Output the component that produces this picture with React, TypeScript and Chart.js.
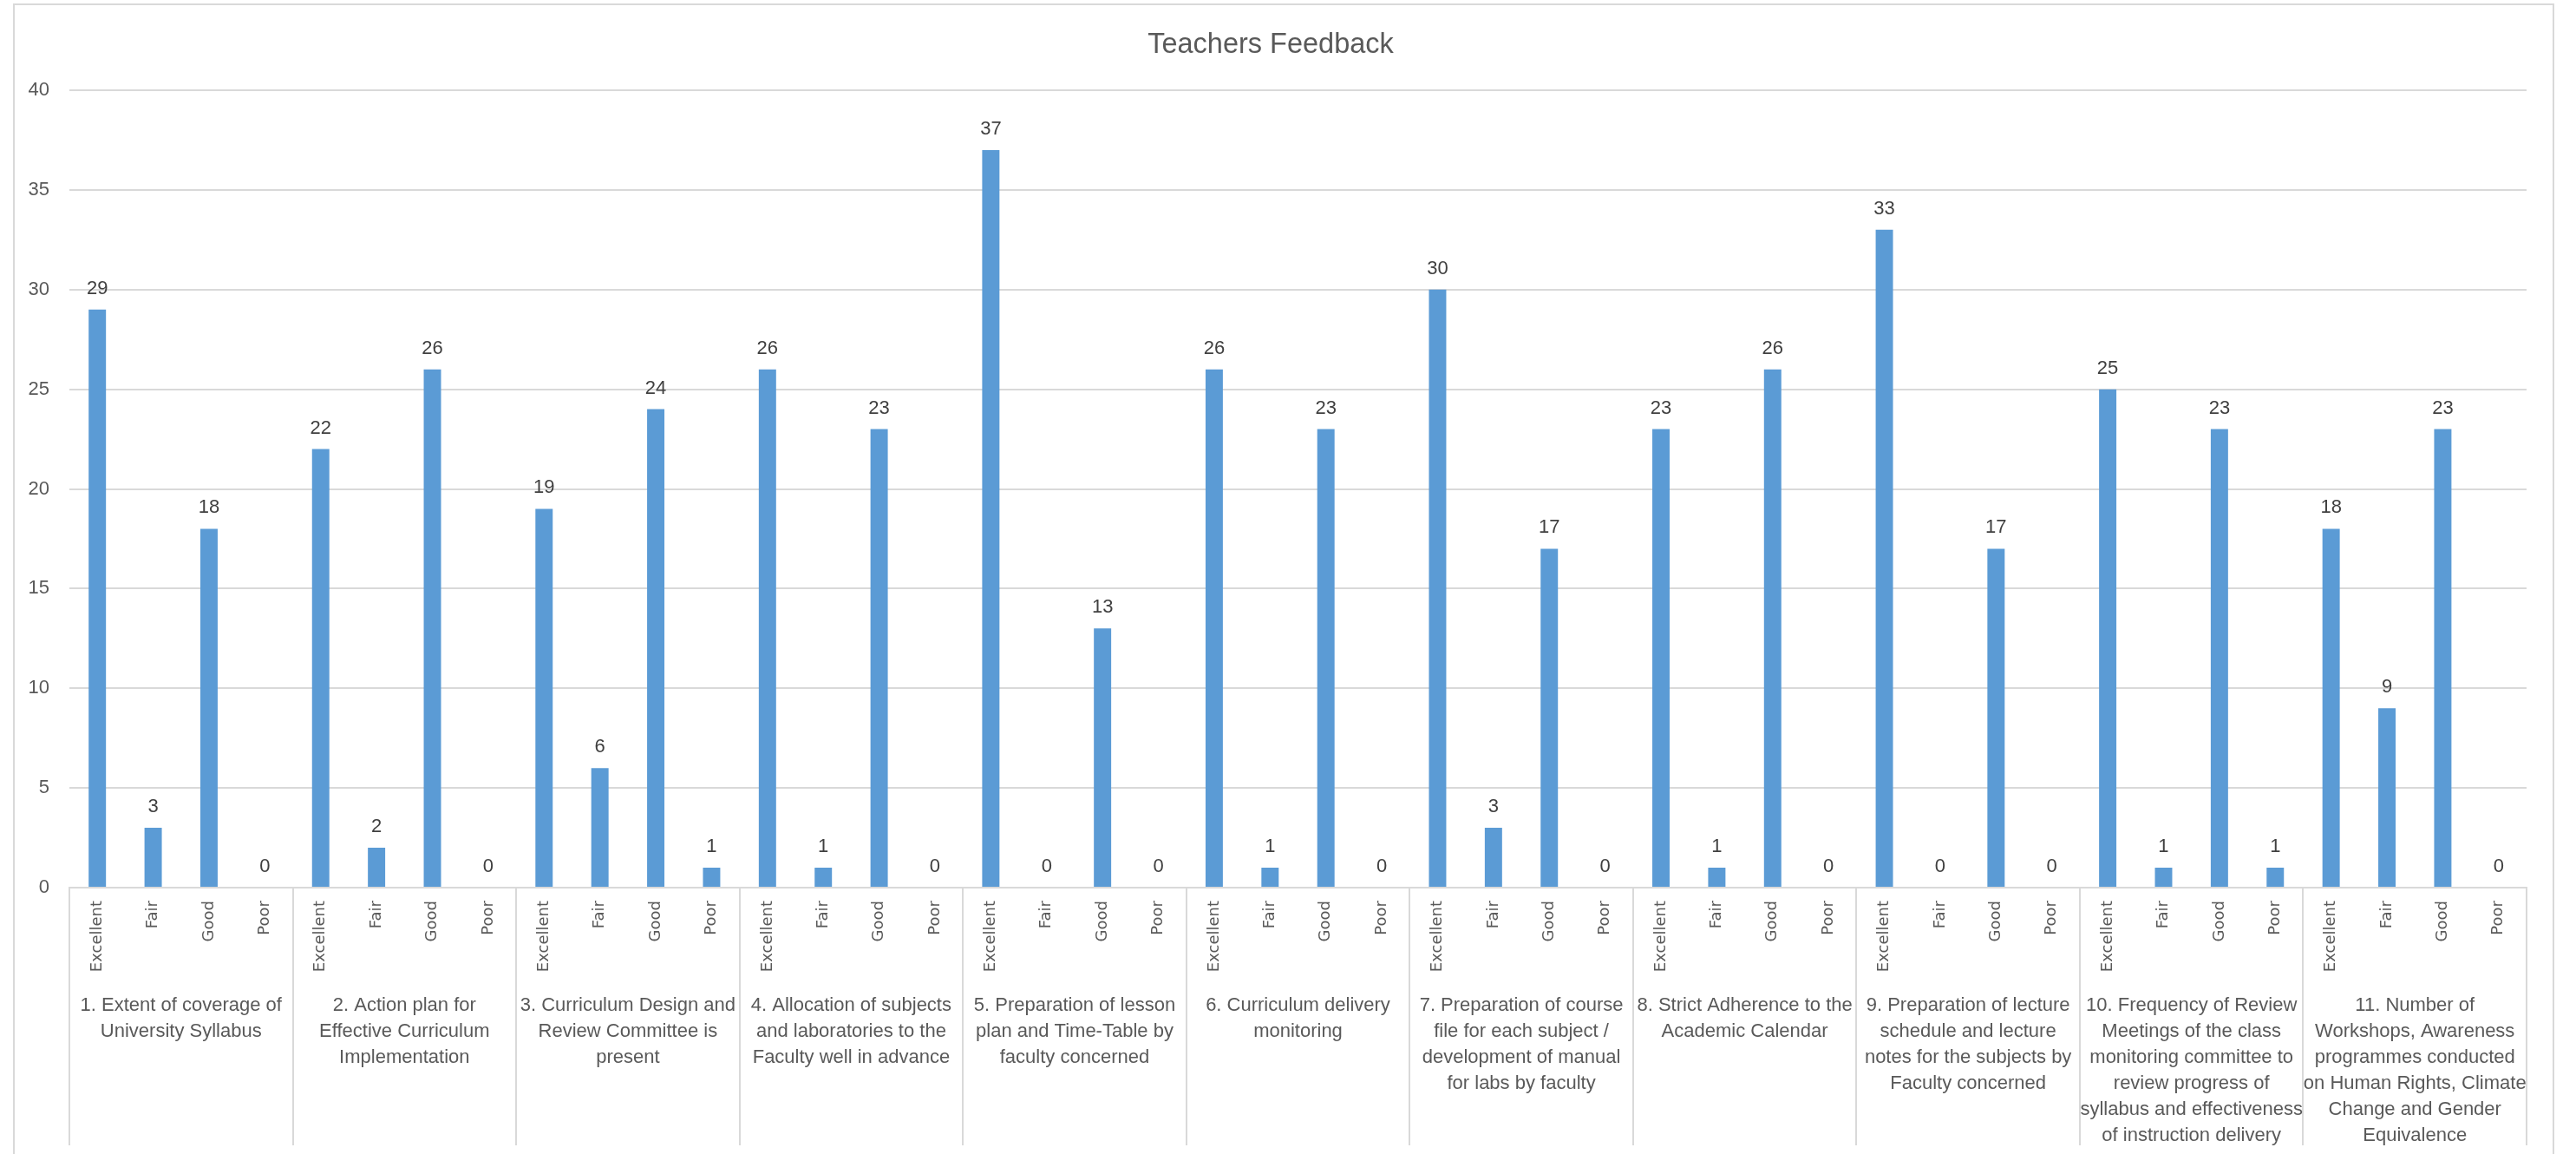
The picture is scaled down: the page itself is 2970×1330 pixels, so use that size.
import React, { useEffect, useRef } from "react";
import { Chart, registerables } from "chart.js";

Chart.register(...registerables);

const chartTitle = "Teachers Feedback";
const ratingLabels = ["Excellent", "Fair", "Good", "Poor"];
const questionLabels: string[][] = [
  ["1. Extent of coverage of", "University Syllabus"],
  ["2. Action plan for", "Effective Curriculum", "Implementation"],
  ["3. Curriculum Design and", "Review Committee is", "present"],
  ["4. Allocation of subjects", "and laboratories to the", "Faculty well in advance"],
  ["5. Preparation of lesson", "plan and Time-Table by", "faculty concerned"],
  ["6. Curriculum delivery", "monitoring"],
  ["7. Preparation of course", "file for each subject /", "development of manual", "for labs by faculty"],
  ["8. Strict Adherence to the", "Academic Calendar"],
  ["9. Preparation of lecture", "schedule and lecture", "notes for the subjects by", "Faculty concerned"],
  ["10. Frequency of Review", "Meetings of the class", "monitoring committee to", "review progress of", "syllabus and effectiveness", "of instruction delivery"],
  ["11. Number of", "Workshops, Awareness", "programmes conducted", "on Human Rights, Climate", "Change and Gender", "Equivalence"],
];
const excellentCounts = [29, 22, 19, 26, 37, 26, 30, 23, 33, 25, 18];
const fairCounts = [3, 2, 6, 1, 0, 1, 3, 1, 0, 1, 9];
const goodCounts = [18, 26, 24, 23, 13, 23, 17, 26, 17, 23, 23];
const poorCounts = [0, 0, 1, 0, 0, 0, 0, 0, 0, 1, 0];
const yMin = 0;
const yMax = 40;
const yStep = 5;

const GRID = "#d9d9d9";
const TEXT = "#595959";

const valueLabelPlugin = {
  id: "valueLabels",
  afterDatasetsDraw(chart: any) {
    const ctx = chart.ctx;
    const meta = chart.getDatasetMeta(0);
    const data = chart.data.datasets[0].data as number[];
    ctx.save();
    ctx.font = '22px "Liberation Sans"';
    ctx.fillStyle = "#404040";
    ctx.textAlign = "center";
    ctx.textBaseline = "alphabetic";
    meta.data.forEach((bar: any, i: number) => {
      ctx.fillText(String(data[i]), bar.x, bar.y - 18);
    });
    ctx.restore();
  },
};

export default function App() {
  const canvasRef = useRef<HTMLCanvasElement | null>(null);

  useEffect(() => {
    if (!canvasRef.current) return;
    const categories = questionLabels.flatMap(() => ratingLabels);
    const values = questionLabels.flatMap((_, i) => [
      excellentCounts[i],
      fairCounts[i],
      goodCounts[i],
      poorCounts[i],
    ]);
    Chart.defaults.font.family = '"Liberation Sans", Arial, sans-serif';
    const chart = new Chart(canvasRef.current, {
      type: "bar",
      data: {
        labels: categories,
        datasets: [
          {
            data: values,
            backgroundColor: "#5b9bd5",
            borderWidth: 0,
            barPercentage: 0.31,
            categoryPercentage: 1.0,
          },
        ],
      },
      plugins: [valueLabelPlugin],
      options: {
        animation: false,
        responsive: false,
        layout: { padding: { left: 0, right: 30, top: 0, bottom: 0 } },
        plugins: {
          legend: { display: false },
          tooltip: { enabled: false },
          title: {
            display: true,
            text: chartTitle,
            color: TEXT,
            font: { size: 32.5, weight: "normal", lineHeight: 1.2 },
            padding: { top: 27, bottom: 32 },
          },
        },
        scales: {
          y: {
            min: yMin,
            max: yMax,
            ticks: {
              stepSize: yStep,
              color: TEXT,
              font: { size: 22 },
              padding: 23,
            },
            grid: { color: GRID, lineWidth: 2, drawTicks: false },
            border: { display: false },
            afterFit: (scale: any) => {
              scale.width = 63;
            },
          },
          x: {
            type: "category",
            position: "bottom",
            weight: 0,
            offset: true,
            ticks: {
              autoSkip: false,
              minRotation: 90,
              maxRotation: 90,
              color: TEXT,
              font: { family: '"DejaVu Sans"', size: 18 },
              padding: -89,
            },
            grid: {
              offset: true,
              drawOnChartArea: false,
              drawTicks: true,
              tickLength: 104,
              lineWidth: 2,
              color: (c: any) =>
                c.index === undefined || c.index % 4 === 0 ? GRID : "rgba(0,0,0,0)",
            },
            border: { display: true, color: GRID, width: 2 },
            afterFit: (scale: any) => {
              scale.height = 104;
            },
          },
          x2: {
            type: "category",
            position: "bottom",
            weight: 1,
            offset: true,
            labels: questionLabels as any,
            ticks: {
              autoSkip: false,
              minRotation: 0,
              maxRotation: 0,
              color: TEXT,
              font: { size: 22, lineHeight: 1.36 },
              padding: -176,
            },
            grid: {
              offset: true,
              drawOnChartArea: false,
              drawTicks: true,
              tickLength: 193,
              lineWidth: 2,
              color: GRID,
            },
            border: { display: false },
            afterFit: (scale: any) => {
              scale.height = 219;
            },
          },
        },
      } as any,
    });
    return () => chart.destroy();
  }, []);

  return (
    <div
      style={{
        position: "fixed",
        left: 0,
        top: 0,
        width: 2970,
        height: 1330,
        overflow: "hidden",
        background: "#ffffff",
      }}
    >
      <div
        style={{
          position: "absolute",
          left: 15,
          top: 4,
          width: 2926,
          height: 1340,
          border: `2px solid ${GRID}`,
          background: "#ffffff",
        }}
      >
        <canvas
          ref={canvasRef}
          width={2926}
          height={1340}
          style={{ display: "block", width: 2926, height: 1340 }}
        />
      </div>
    </div>
  );
}
